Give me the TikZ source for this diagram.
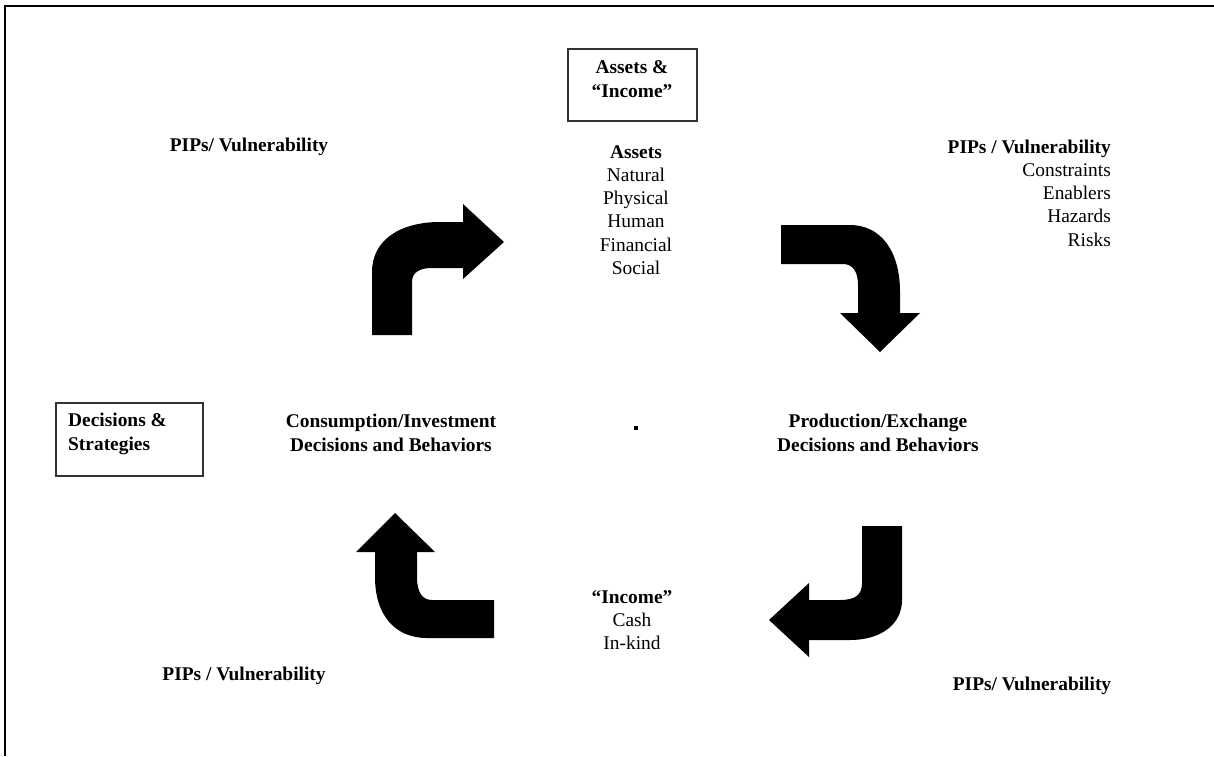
\documentclass[tikz,border=0pt]{standalone}
\usepackage{fontspec}
\setmainfont{Liberation Serif}
\begin{document}
\begin{tikzpicture}[x=1pt,y=-1pt,
  txt/.style={inner sep=0pt,align=center,font=\fontsize{19.4}{23.2}\selectfont},
  btxt/.style={txt,font=\fontsize{19.4}{24}\selectfont\bfseries},
  boxed/.style={draw=black!80,line width=1.3pt},
  bigarrow/.style={fill=black,draw=none}]
\useasboundingbox (0,0) rectangle (1214,756);
% frame (top and left)
\draw[line width=2pt] (5,756) -- (5,6) -- (1214,6);
% boxes
\node[boxed,minimum width=129pt,minimum height=72pt,inner sep=0pt] (abox) at (632.5,85) {};
\node[btxt] (abtxt) at (632,79) {Assets \&\\``Income''};
\node[boxed,minimum width=147pt,minimum height=73pt,inner sep=0pt] (dbox) at (129.5,439.5) {};
\node[btxt,align=left,anchor=west] (dbtxt) at (68,434) {Decisions \&\\Strategies};
% texts
\node[btxt] (pipA) at (249,147) {PIPs/ Vulnerability};
\node[txt] (assets) at (636,210) {\textbf{Assets}\\Natural\\Physical\\Human\\Financial\\Social};
\node[txt,align=right,anchor=east] (pipB) at (1111,193) {\textbf{PIPs / Vulnerability}\\Constraints\\Enablers\\Hazards\\Risks};
\node[btxt] (cons) at (391,433) {Consumption/Investment\\Decisions and Behaviors};
\node[btxt] (prod) at (878,433) {Production/Exchange\\Decisions and Behaviors};
\node[fill=black,minimum size=3.5pt,inner sep=0pt] (dot) at (636,428) {};
\node[txt] (income) at (632,620) {\textbf{``Income''}\\Cash\\In-kind};
\node[btxt] (pipC) at (244,676) {PIPs / Vulnerability};
\node[btxt] (pipD) at (1032,686) {PIPs/ Vulnerability};
% arrows
\fill[bigarrow] (372,335) -- (412,335) -- (412,282) .. controls (412,272) and (420,268) .. (432,268) -- (463,268) -- (463,279) -- (504,242) -- (463,204) -- (463,222) -- (440,222) .. controls (400,222) and (372,240) .. (372,272) -- cycle;
\fill[bigarrow] (781,225) -- (850,225) .. controls (880,225) and (900,250) .. (900,292) -- (900,313) -- (920,313) -- (880,352) -- (840,313) -- (858,313) -- (858,285) .. controls (858,272) and (853,264) .. (843,264) -- (781,264) -- cycle;
\fill[bigarrow] (862,526) -- (902,526) -- (902,600) .. controls (902,625) and (880,640) .. (850,640) -- (809,640) -- (809,657) -- (769,620) -- (809,583) -- (809,600) -- (840,600) .. controls (855,600) and (862,595) .. (862,583) -- cycle;
\fill[bigarrow] (494,600) -- (494,638) -- (427,638) .. controls (395,638) and (375,615) .. (375,577) -- (375,552) -- (356,552) -- (395,513) -- (435,552) -- (417,552) -- (417,577) .. controls (417,592) and (422,600) .. (432,600) -- cycle;
\end{tikzpicture}
\end{document}
